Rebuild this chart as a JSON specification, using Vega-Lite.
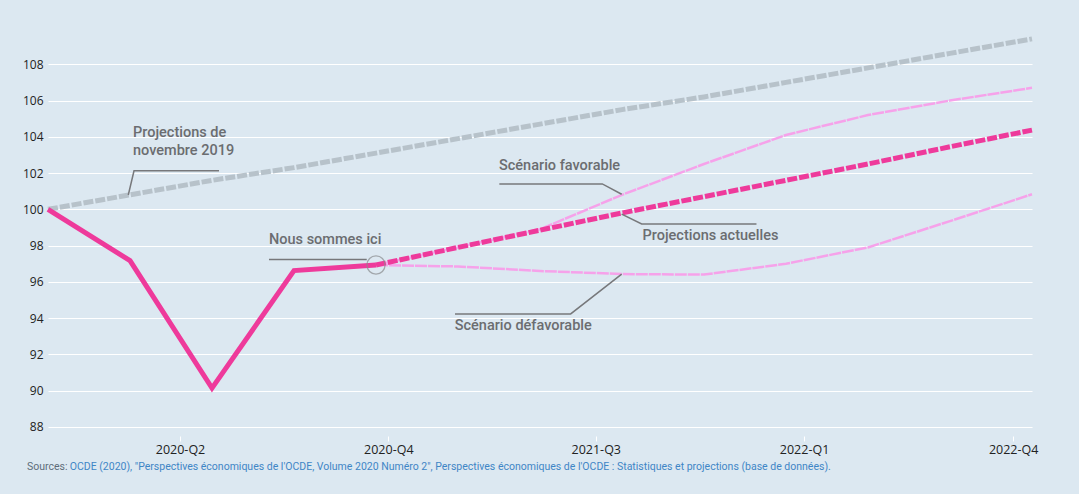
{
  "$schema": "https://vega.github.io/schema/vega-lite/v6.json",
  "width": 984,
  "height": 408,
  "autosize": {"type": "none"},
  "padding": {"left": 48, "top": 28, "right": 47, "bottom": 58},
  "background": "#dce8f1",
  "config": {"view": {"stroke": null}},
  "datasets": {
    "series": [
      {"t": 0, "v": 100.0, "s": "nov2019"}, {"t": 1, "v": 100.8, "s": "nov2019"}, {"t": 2, "v": 101.6, "s": "nov2019"},
      {"t": 3, "v": 102.3, "s": "nov2019"}, {"t": 4, "v": 103.1, "s": "nov2019"}, {"t": 5, "v": 103.9, "s": "nov2019"},
      {"t": 6, "v": 104.7, "s": "nov2019"}, {"t": 7, "v": 105.5, "s": "nov2019"}, {"t": 8, "v": 106.2, "s": "nov2019"},
      {"t": 9, "v": 107.0, "s": "nov2019"}, {"t": 10, "v": 107.8, "s": "nov2019"}, {"t": 11, "v": 108.6, "s": "nov2019"},
      {"t": 12, "v": 109.4, "s": "nov2019"},
      {"t": 0, "v": 100.0, "s": "hist"}, {"t": 1, "v": 97.17, "s": "hist"}, {"t": 2, "v": 90.14, "s": "hist"},
      {"t": 3, "v": 96.62, "s": "hist"}, {"t": 4, "v": 96.93, "s": "hist"},
      {"t": 4, "v": 96.93, "s": "actuelles"}, {"t": 5, "v": 97.9, "s": "actuelles"}, {"t": 6, "v": 98.85, "s": "actuelles"},
      {"t": 7, "v": 99.8, "s": "actuelles"}, {"t": 8, "v": 100.7, "s": "actuelles"}, {"t": 9, "v": 101.6, "s": "actuelles"},
      {"t": 10, "v": 102.5, "s": "actuelles"}, {"t": 11, "v": 103.45, "s": "actuelles"}, {"t": 12, "v": 104.37, "s": "actuelles"},
      {"t": 4, "v": 96.93, "s": "favorable"}, {"t": 5, "v": 97.9, "s": "favorable"}, {"t": 6, "v": 98.9, "s": "favorable"},
      {"t": 7, "v": 100.8, "s": "favorable"}, {"t": 8, "v": 102.5, "s": "favorable"}, {"t": 9, "v": 104.1, "s": "favorable"},
      {"t": 10, "v": 105.2, "s": "favorable"}, {"t": 11, "v": 106.0, "s": "favorable"}, {"t": 12, "v": 106.7, "s": "favorable"},
      {"t": 4, "v": 96.93, "s": "defavorable"}, {"t": 5, "v": 96.85, "s": "defavorable"}, {"t": 6, "v": 96.6, "s": "defavorable"},
      {"t": 7, "v": 96.43, "s": "defavorable"}, {"t": 8, "v": 96.4, "s": "defavorable"}, {"t": 9, "v": 97.0, "s": "defavorable"},
      {"t": 10, "v": 97.9, "s": "defavorable"}, {"t": 11, "v": 99.35, "s": "defavorable"}, {"t": 12, "v": 100.83, "s": "defavorable"}
    ],
    "leaders": [
      {"id": "l1", "o": 1, "t": 2.085, "v": 102.13}, {"id": "l1", "o": 2, "t": 1.049, "v": 102.13}, {"id": "l1", "o": 3, "t": 0.979, "v": 100.79},
      {"id": "l2", "o": 1, "t": 2.695, "v": 97.24}, {"id": "l2", "o": 2, "t": 3.887, "v": 97.24},
      {"id": "l3", "o": 1, "t": 5.504, "v": 101.4}, {"id": "l3", "o": 2, "t": 6.76, "v": 101.4}, {"id": "l3", "o": 3, "t": 6.996, "v": 100.83},
      {"id": "l4", "o": 1, "t": 6.996, "v": 99.74}, {"id": "l4", "o": 2, "t": 7.24, "v": 99.19}, {"id": "l4", "o": 3, "t": 8.64, "v": 99.19},
      {"id": "l5", "o": 1, "t": 4.963, "v": 94.23}, {"id": "l5", "o": 2, "t": 6.374, "v": 94.23}, {"id": "l5", "o": 3, "t": 6.996, "v": 96.43}
    ],
    "labels": [
      {"t": 1.037, "v": 104.0, "label": "Projections de"},
      {"t": 1.037, "v": 103.0, "label": "novembre 2019"},
      {"t": 2.695, "v": 98.09, "label": "Nous sommes ici"},
      {"t": 5.5, "v": 102.17, "label": "Scénario favorable"},
      {"t": 7.25, "v": 98.31, "label": "Projections actuelles"},
      {"t": 4.96, "v": 93.34, "label": "Scénario défavorable"}
    ],
    "here": [{"t": 4, "v": 96.93}],
    "source": [
      {"t": -0.256, "v": 85.6, "part": "a", "label": "Sources:"},
      {"t": 0.265, "v": 85.6, "part": "b", "label": "OCDE (2020), \"Perspectives économiques de l'OCDE, Volume 2020 Numéro 2\", Perspectives économiques de l'OCDE : Statistiques et projections (base de données)."}
    ]
  },
  "encoding": {
    "x": {
      "field": "t", "type": "quantitative",
      "scale": {"domain": [0, 12], "nice": false, "zero": false},
      "axis": {
        "values": [1.61, 4.15, 6.68, 9.22, 11.77],
        "labelExpr": "datum.value < 3 ? '2020-Q2' : datum.value < 5 ? '2020-Q4' : datum.value < 8 ? '2021-Q3' : datum.value < 10 ? '2022-Q1' : '2022-Q4'",
        "title": null, "grid": false, "domain": false,
        "ticks": true, "tickColor": "#ffffff", "tickSize": 5, "tickWidth": 1,
        "labelFont": "Open Sans", "labelFontSize": 12.5, "labelColor": "#222222", "labelPadding": 2
      }
    },
    "y": {
      "field": "v", "type": "quantitative",
      "scale": {"domain": [87.5, 110], "nice": false, "zero": false},
      "axis": {
        "values": [88, 90, 92, 94, 96, 98, 100, 102, 104, 106, 108],
        "title": null, "domain": false, "ticks": false,
        "grid": true, "gridColor": "#ffffff", "gridWidth": 1.2,
        "labelFont": "Open Sans", "labelFontSize": 12, "labelColor": "#222222", "labelPadding": 5
      }
    }
  },
  "layer": [
    {
      "data": {"name": "series"},
      "transform": [{"filter": "datum.s === 'nov2019'"}],
      "mark": {"type": "line", "color": "#b7c2ca", "strokeWidth": 5, "strokeDash": [10, 2]}
    },
    {
      "data": {"name": "series"},
      "transform": [{"filter": "datum.s === 'defavorable'"}],
      "mark": {"type": "line", "color": "#f6a2ea", "strokeWidth": 2.5, "strokeDash": [12, 1]}
    },
    {
      "data": {"name": "series"},
      "transform": [{"filter": "datum.s === 'favorable'"}],
      "mark": {"type": "line", "color": "#f6a2ea", "strokeWidth": 2.5, "strokeDash": [12, 1]}
    },
    {
      "data": {"name": "series"},
      "transform": [{"filter": "datum.s === 'actuelles'"}],
      "mark": {"type": "line", "color": "#ee3a9b", "strokeWidth": 5, "strokeDash": [10, 2]}
    },
    {
      "data": {"name": "series"},
      "transform": [{"filter": "datum.s === 'hist'"}],
      "mark": {"type": "line", "color": "#ee3a9b", "strokeWidth": 5, "strokeJoin": "miter"}
    },
    {
      "data": {"name": "leaders"},
      "mark": {"type": "line", "color": "#77787b", "strokeWidth": 1.5},
      "encoding": {"detail": {"field": "id"}, "order": {"field": "o", "type": "quantitative"}}
    },
    {
      "data": {"name": "here"},
      "mark": {"type": "point", "shape": "circle", "size": 330, "filled": false, "stroke": "#8a8c8f", "strokeWidth": 1.3}
    },
    {
      "data": {"name": "labels"},
      "mark": {"type": "text", "align": "left", "baseline": "alphabetic", "font": "Roboto", "fontSize": 14.5, "fontWeight": 500, "color": "#6b6d70"},
      "encoding": {"text": {"field": "label"}}
    },
    {
      "data": {"name": "source"},
      "mark": {"type": "text", "align": "left", "baseline": "alphabetic", "font": "Roboto", "fontSize": 10.5},
      "encoding": {
        "text": {"field": "label"},
        "color": {"field": "part", "type": "nominal", "scale": {"domain": ["a", "b"], "range": ["#5e6d7b", "#3f86c6"]}, "legend": null}
      }
    }
  ]
}
